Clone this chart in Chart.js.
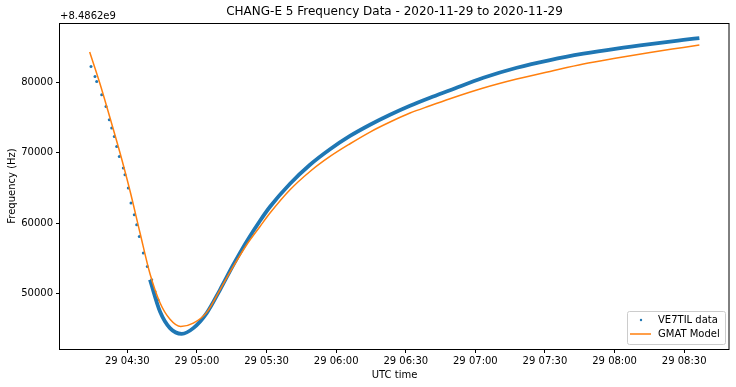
<!DOCTYPE html>
<html>
<head>
<meta charset="utf-8">
<script src="https://cdn.jsdelivr.net/npm/chart.js@4.4.1/dist/chart.umd.min.js"></script>
<style>
  body { margin: 0; background: #fff; }
  #wrap { width: 736px; height: 387px; }
</style>
</head>
<body>
<div id="wrap"><canvas id="freqChart"></canvas></div>
<script>
// minutes after 2020-11-29 04:00 UTC; frequencies in Hz above 8.4862e9
const freqOffsetLabel = '+8.4862e9';

// VE7TIL: sparse early readings
const ve7tilEarlyMinutes = [14.35, 16.08, 16.81, 18.97, 20.82, 22.24, 23.28, 24.40, 25.43, 26.55,
  28.28, 29.01, 30.43, 31.59, 33.02, 34.05, 35.17, 36.90, 38.62, 40.52, 41.94, 43.23];
const ve7tilEarlyFreq = [82273, 80852, 80142, 78253, 76591, 74701, 73523, 72329, 70909, 69488,
  67840, 66889, 64999, 62869, 61207, 59786, 58124, 55766, 53863, 51973, 50312, 49133];

// VE7TIL: dense track
const ve7tilMinutes = [39.78, 44.09, 48.40, 53.45, 58.45, 64.22, 69.95, 75.69, 81.46, 87.20,
  91.50, 100.12, 108.74, 117.36, 125.98, 134.60, 143.22, 151.84, 160.46, 169.08, 183.44,
  197.83, 212.19, 226.54, 240.93, 255.29, 269.64, 276.53];
const ve7tilFreq = [51974, 47471, 45112, 44303, 45112, 47243, 50553, 54104, 57414, 60355,
  62343, 65610, 68309, 70511, 72400, 73991, 75412, 76690, 77827, 78892, 80668,
  82088, 83182, 84077, 84816, 85455, 86037, 86307];

const gmatMinutes = [13.79, 18.23, 22.54, 26.85, 31.16, 35.47, 39.78, 44.09, 48.40,
  53.02, 58.45, 64.22, 69.95, 75.69, 81.46, 87.20, 91.50, 100.12, 108.74, 117.36, 125.98,
  134.60, 143.22, 151.84, 160.46, 169.08, 183.44, 197.83, 212.19, 226.54, 240.93,
  255.29, 269.64, 276.53];
const gmatFreq = [84318, 79815, 74986, 70014, 64616, 58650, 52826, 48706, 46363,
  45340, 45823, 47350, 50553, 53863, 56945, 59545, 61448, 64758, 67358, 69488, 71292,
  72954, 74375, 75653, 76690, 77685, 79205, 80483, 81563, 82614, 83466,
  84262, 84972, 85313];

const timeTicks = [30, 60, 90, 120, 150, 180, 210, 240, 270];
const freqTicks = [50000, 60000, 70000, 80000];

const BLUE = '#1f77b4';
const ORANGE = '#ff7f0e';
const FONT = 'DejaVu Sans';

function timeLabel(v) {
  const h = 4 + Math.floor(v / 60);
  const m = Math.round(v % 60);
  return '29 ' + String(h).padStart(2, '0') + ':' + String(m).padStart(2, '0');
}

const toPoints = (xs, ys) => xs.map((x, i) => ({ x: x, y: ys[i] }));

const framePlugin = {
  id: 'frame',
  afterDraw(chart) {
    const { ctx, chartArea: a } = chart;
    ctx.save();
    ctx.strokeStyle = '#000';
    ctx.lineWidth = 1;
    ctx.strokeRect(a.left - 0.5, a.top + 0.5, a.right - a.left + 0.5, a.bottom - a.top);

    ctx.fillStyle = '#000';
    ctx.font = '12px ' + FONT;
    ctx.textAlign = 'center';
    ctx.textBaseline = 'middle';
    ctx.fillText('CHANG-E 5 Frequency Data - 2020-11-29 to 2020-11-29', (a.left + a.right) / 2, 12);

    ctx.font = '10px ' + FONT;
    ctx.textAlign = 'left';
    ctx.fillText(freqOffsetLabel, a.left, 16);

    // legend, lower right inside the plot
    const data = chart.data.datasets[0];
    const model = chart.data.datasets[2];
    const bx = a.right - 102, by = a.bottom - 38, bw = 98, bh = 33;
    ctx.fillStyle = 'rgba(255,255,255,0.8)';
    ctx.strokeStyle = '#ccc';
    ctx.beginPath();
    ctx.roundRect(bx + 0.5, by + 0.5, bw, bh, 2);
    ctx.fill();
    ctx.stroke();
    ctx.fillStyle = data.backgroundColor;
    ctx.beginPath();
    ctx.arc(bx + 14, by + 9, 1.2, 0, Math.PI * 2);
    ctx.fill();
    ctx.strokeStyle = model.borderColor;
    ctx.lineWidth = 1.5;
    ctx.beginPath();
    ctx.moveTo(bx + 3, by + 23);
    ctx.lineTo(bx + 24, by + 23);
    ctx.stroke();
    ctx.fillStyle = '#000';
    ctx.font = '10px ' + FONT;
    ctx.fillText(data.label, bx + 31, by + 9);
    ctx.fillText(model.label, bx + 31, by + 23);
    ctx.restore();
  }
};

new Chart(document.getElementById('freqChart'), {
  type: 'scatter',
  data: {
    datasets: [
      {
        label: 'VE7TIL data',
        data: toPoints(ve7tilEarlyMinutes, ve7tilEarlyFreq),
        backgroundColor: BLUE,
        borderColor: BLUE,
        pointRadius: 1.5,
        pointBorderWidth: 0,
        order: 2
      },
      {
        label: 'VE7TIL data',
        data: toPoints(ve7tilMinutes, ve7tilFreq),
        showLine: true,
        borderColor: BLUE,
        backgroundColor: BLUE,
        borderWidth: 3.8,
        cubicInterpolationMode: 'monotone',
        pointRadius: 0,
        order: 1
      },
      {
        label: 'GMAT Model',
        data: toPoints(gmatMinutes, gmatFreq),
        showLine: true,
        borderColor: ORANGE,
        backgroundColor: ORANGE,
        borderWidth: 1.5,
        cubicInterpolationMode: 'monotone',
        pointRadius: 0,
        order: 0
      }
    ]
  },
  options: {
    responsive: true,
    maintainAspectRatio: false,
    animation: false,
    layout: { padding: { top: 23, right: 7, bottom: 0, left: 0 } },
    plugins: {
      legend: { display: false },
      tooltip: { enabled: false },
      title: { display: false }
    },
    scales: {
      x: {
        type: 'linear',
        min: 1.0,
        max: 289.3,
        afterBuildTicks: s => { s.ticks = timeTicks.map(v => ({ value: v })); },
        afterFit: s => { s.height = 38; },
        grid: { drawOnChartArea: false, tickLength: 4, tickColor: '#000' },
        border: { display: false },
        ticks: { color: '#000', font: { family: FONT, size: 10 }, padding: 2, maxRotation: 0, callback: timeLabel },
        title: { display: true, text: 'UTC time', color: '#000', font: { family: FONT, size: 10 }, padding: { top: 0, bottom: 6 } }
      },
      y: {
        min: 42145,
        max: 88440,
        afterBuildTicks: s => { s.ticks = freqTicks.map(v => ({ value: v })); },
        afterFit: s => { s.width = 60; },
        grid: { drawOnChartArea: false, tickLength: 4, tickColor: '#000' },
        border: { display: false },
        ticks: { color: '#000', font: { family: FONT, size: 10 }, padding: 3, callback: v => String(v) },
        title: { display: true, text: 'Frequency (Hz)', color: '#000', font: { family: FONT, size: 10 }, padding: { top: 6, bottom: 0 } }
      }
    }
  },
  plugins: [framePlugin]
});
</script>
</body>
</html>
